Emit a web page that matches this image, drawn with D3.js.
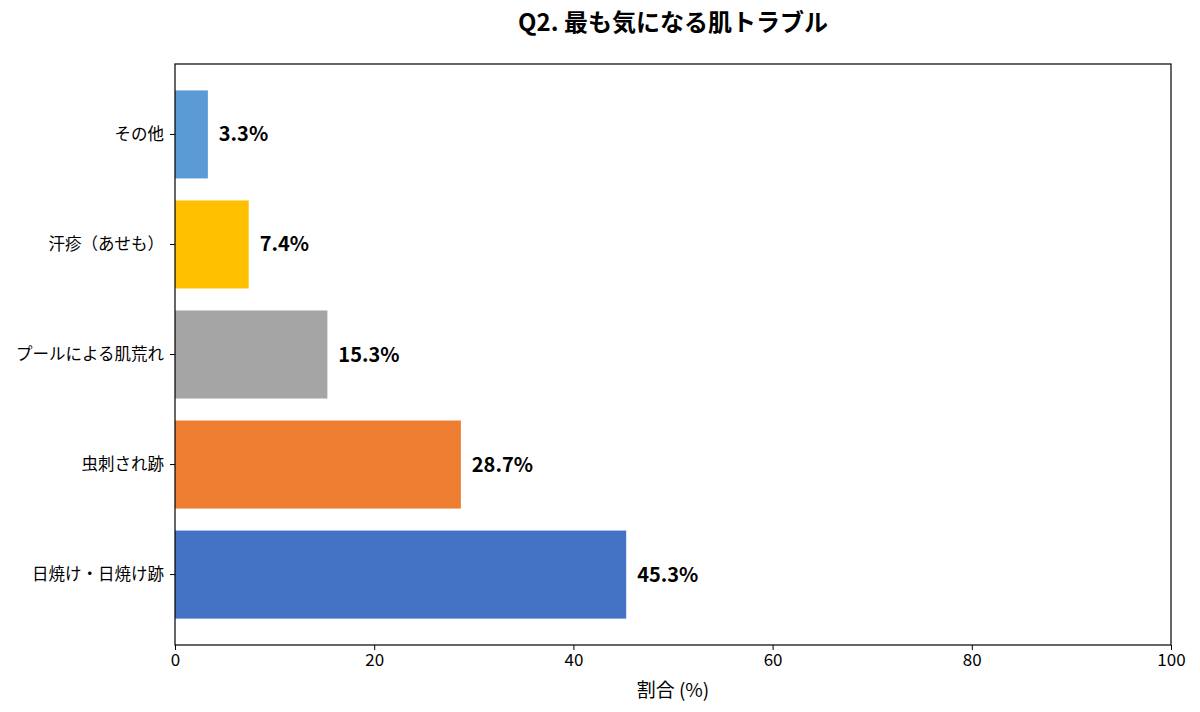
<!DOCTYPE html>
<html>
<head>
<meta charset="utf-8">
<script src="https://cdn.jsdelivr.net/npm/d3@7"></script>
<style>
body { margin: 0; background: #fff; }
text { font-family: "Noto Sans CJK JP", "Noto Sans", sans-serif; }
</style>
</head>
<body>
<div class="chart"></div>
<script>
// data, bottom to top like the original
const categories = ["日焼け・日焼け跡", "虫刺され跡", "プールによる肌荒れ", "汗疹（あせも）", "その他"];
const values = [45.3, 28.7, 15.3, 7.4, 3.3];
const colors = ["#4472c4", "#ed7d31", "#a5a5a5", "#ffc000", "#5b9bd5"];
const xTicks = [0, 20, 40, 60, 80, 100];

const W = 1200, H = 712;
const margin = {top: 64, right: 29, bottom: 67, left: 175};
const width = W - margin.left - margin.right,
      height = H - margin.top - margin.bottom;

const svg = d3.select('.chart')
  .append('svg')
  .attr('width', W)
  .attr('height', H)
  .append('g')
  .attr('transform', `translate(${margin.left}, ${margin.top})`);

const x = d3.scaleLinear().domain([0, 100]).range([0, width]);
const y = d3.scaleBand()
  .domain(categories)
  .range([height, 0])
  .paddingInner(0.2)
  .paddingOuter(0.24);

svg.selectAll('.bar')
  .data(categories)
  .enter()
  .append('rect')
  .attr('class', 'bar')
  .attr('x', x(0))
  .attr('y', d => y(d))
  .attr('width', (d, i) => x(values[i]) - x(0))
  .attr('height', y.bandwidth())
  .attr('fill', (d, i) => colors[i]);

svg.selectAll('.val')
  .data(categories)
  .enter()
  .append('text')
  .attr('class', 'val')
  .attr('x', (d, i) => x(values[i] + 1.1))
  .attr('y', d => y(d) + y.bandwidth() / 2)
  .attr('dy', '0.35em')
  .style('font-size', '20px')
  .style('font-weight', 'bold')
  .text((d, i) => values[i].toFixed(1) + '%');

// frame
svg.append('rect')
  .attr('width', width)
  .attr('height', height)
  .attr('fill', 'none')
  .attr('stroke', '#000')
  .attr('stroke-width', 1.2);

const xAxis = svg.append('g')
  .attr('transform', `translate(0, ${height})`)
  .call(d3.axisBottom(x).tickValues(xTicks).tickSize(5).tickPadding(4));
xAxis.select('.domain').remove();
xAxis.selectAll('text').style('font-size', '17px').attr('fill', '#000');

const yAxis = svg.append('g')
  .call(d3.axisLeft(y).tickSize(5).tickPadding(6));
yAxis.select('.domain').remove();
yAxis.selectAll('text').style('font-size', '16.5px').attr('fill', '#000');

svg.append('text')
  .attr('x', width / 2)
  .attr('y', height + 52)
  .style('text-anchor', 'middle')
  .style('font-size', '19px')
  .text('割合 (%)');

svg.append('text')
  .attr('x', width / 2)
  .attr('y', -33)
  .style('text-anchor', 'middle')
  .style('font-size', '24px')
  .style('font-weight', 'bold')
  .text('Q2. 最も気になる肌トラブル');
</script>
</body>
</html>
